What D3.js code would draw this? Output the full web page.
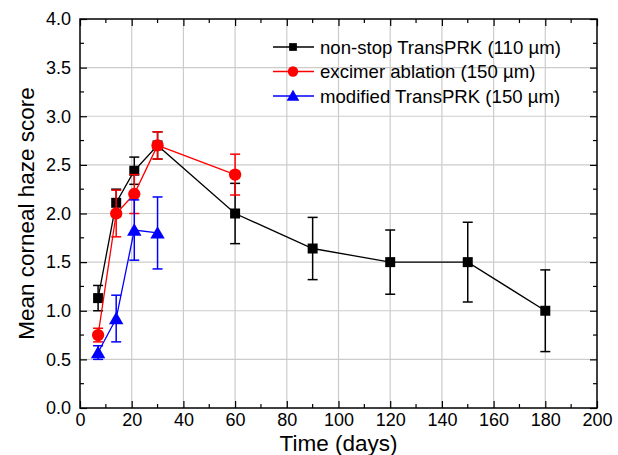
<!DOCTYPE html>
<html><head><meta charset="utf-8">
<script src="https://cdn.jsdelivr.net/npm/d3@7"></script>
<style>body{margin:0;background:#fff}svg{display:block}text{font-family:"Liberation Sans",Arial,sans-serif;fill:#000}</style>
</head><body><svg id="c" width="618" height="455"></svg>
<script>
const xTicks = [0,20,40,60,80,100,120,140,160,180,200];
const yTicks = [0,0.5,1,1.5,2,2.5,3,3.5,4];
const seriesNames = ["non-stop TransPRK (110 µm)","excimer ablation (150 µm)","modified TransPRK (150 µm)"];
const seriesColors = ["#000000","#ff0000","#0000ff"];
const seriesShapes = ["square","circle","triangle"];
const blackX = [7,14,21,30,60,90,120,150,180];
const blackY = [1.13,2.11,2.44,2.70,2.00,1.64,1.50,1.50,1.00];
const blackE = [0.13,0.14,0.14,0.14,0.31,0.32,0.33,0.41,0.42];
const redX = [7,14,21,30,60];
const redY = [0.75,2.00,2.20,2.70,2.40];
const redE = [0.07,0.24,0.20,0.14,0.21];
const blueX = [7,14,21,30];
const blueY = [0.57,0.92,1.83,1.80];
const blueE = [0.07,0.24,0.31,0.37];

const svg = d3.select("#c");
const L=80,R=597,T=19,B=408;
const x = d3.scaleLinear().domain([0,200]).range([L,R]);
const y = d3.scaleLinear().domain([0,4]).range([B,T]);

// grid
svg.append("g").selectAll("line").data(xTicks.slice(1,-1)).join("line")
 .attr("x1",d=>x(d)).attr("x2",d=>x(d)).attr("y1",T).attr("y2",B).attr("stroke","#cccccc").attr("stroke-width",1.2);
svg.append("g").selectAll("line").data(yTicks.slice(1,-1)).join("line")
 .attr("y1",d=>y(d)).attr("y2",d=>y(d)).attr("x1",L).attr("x2",R).attr("stroke","#cccccc").attr("stroke-width",1.2);

// axes (inward ticks)
const xMinor = d3.range(0,201,10), yMinor = d3.range(0,4.01,0.25);
function axisStyle(g){g.select(".domain").remove();g.selectAll("line").attr("stroke","#000").attr("stroke-width",1.2);}
const gxB = svg.append("g").attr("transform",`translate(0,${B})`)
 .call(d3.axisBottom(x).tickValues(xTicks).tickSize(-7).tickPadding(5).tickFormat(d3.format("d")));
const gxT = svg.append("g").attr("transform",`translate(0,${T})`)
 .call(d3.axisTop(x).tickValues(xTicks).tickSize(-7).tickFormat(""));
const gyL = svg.append("g").attr("transform",`translate(${L},0)`)
 .call(d3.axisLeft(y).tickValues(yTicks).tickSize(-7).tickPadding(9).tickFormat(d3.format(".1f")));
const gyR = svg.append("g").attr("transform",`translate(${R},0)`)
 .call(d3.axisRight(y).tickValues(yTicks).tickSize(-7).tickFormat(""));
[gxB,gxT,gyL,gyR].forEach(axisStyle);
svg.selectAll("g.tick text").attr("font-size",18).attr("font-family","Liberation Sans, Arial, sans-serif");
// minor ticks
svg.append("g").selectAll("line").data(xMinor.filter(d=>d%20)).join("line")
 .attr("x1",d=>x(d)).attr("x2",d=>x(d)).attr("y1",B).attr("y2",B-4).attr("stroke","#000").attr("stroke-width",1.2);
svg.append("g").selectAll("line").data(xMinor.filter(d=>d%20)).join("line")
 .attr("x1",d=>x(d)).attr("x2",d=>x(d)).attr("y1",T).attr("y2",T+4).attr("stroke","#000").attr("stroke-width",1.2);
svg.append("g").selectAll("line").data(yMinor.filter(d=>Math.round(d*4)%2)).join("line")
 .attr("y1",d=>y(d)).attr("y2",d=>y(d)).attr("x1",L).attr("x2",L+4).attr("stroke","#000").attr("stroke-width",1.2);
svg.append("g").selectAll("line").data(yMinor.filter(d=>Math.round(d*4)%2)).join("line")
 .attr("y1",d=>y(d)).attr("y2",d=>y(d)).attr("x1",R).attr("x2",R-4).attr("stroke","#000").attr("stroke-width",1.2);
// frame
svg.append("rect").attr("x",L).attr("y",T).attr("width",R-L).attr("height",B-T).attr("fill","none").attr("stroke","#000").attr("stroke-width",1.5);

// titles
svg.append("text").attr("x",(L+R)/2).attr("y",451).attr("text-anchor","middle").attr("font-size",22.5).text("Time (days)");
svg.append("text").attr("transform",`translate(34,${(T+B)/2}) rotate(-90)`).attr("text-anchor","middle").attr("font-size",22.5).text("Mean corneal haze score");

const sym = {square:d3.symbol(d3.symbolSquare,100), circle:d3.symbol(d3.symbolCircle,120), triangle:d3.symbol(d3.symbolTriangle,90)};
const symL = {square:d3.symbol(d3.symbolSquare,60), circle:d3.symbol(d3.symbolCircle,85), triangle:d3.symbol(d3.symbolTriangle,70)};

const series = [
 {xs:blackX,ys:blackY,es:blackE},
 {xs:redX,ys:redY,es:redE},
 {xs:blueX,ys:blueY,es:blueE}
];
series.forEach((s,i)=>{
 const col = seriesColors[i];
 const pts = s.xs.map((d,j)=>({x:d,y:s.ys[j],e:s.es[j]}));
 const g = svg.append("g");
 g.append("path").datum(pts).attr("fill","none").attr("stroke",col).attr("stroke-width",1.3)
  .attr("d",d3.line().x(d=>x(d.x)).y(d=>y(d.y)));
 const eb = g.selectAll("g.eb").data(pts).join("g");
 eb.append("line").attr("x1",d=>x(d.x)).attr("x2",d=>x(d.x)).attr("y1",d=>y(d.y-d.e)).attr("y2",d=>y(d.y+d.e)).attr("stroke",col).attr("stroke-width",1.5);
 eb.append("line").attr("x1",d=>x(d.x)-5).attr("x2",d=>x(d.x)+5).attr("y1",d=>y(d.y-d.e)).attr("y2",d=>y(d.y-d.e)).attr("stroke",col).attr("stroke-width",1.5);
 eb.append("line").attr("x1",d=>x(d.x)-5).attr("x2",d=>x(d.x)+5).attr("y1",d=>y(d.y+d.e)).attr("y2",d=>y(d.y+d.e)).attr("stroke",col).attr("stroke-width",1.5);
 g.selectAll("path.m").data(pts).join("path").attr("class","m")
  .attr("transform",d=>`translate(${x(d.x)},${y(d.y)+(seriesShapes[i]==="triangle"?1.5:0)})`)
  .attr("d",sym[seriesShapes[i]]).attr("fill",col);
});

// legend
const lg = svg.append("g");
seriesNames.forEach((n,i)=>{
 const yy = 47 + i*24.5;
 lg.append("line").attr("x1",273).attr("x2",314).attr("y1",yy).attr("y2",yy).attr("stroke",seriesColors[i]).attr("stroke-width",1.3);
 lg.append("path").attr("transform",`translate(293,${yy+(seriesShapes[i]==="triangle"?1.2:0)})`).attr("d",symL[seriesShapes[i]]).attr("fill",seriesColors[i]);
 lg.append("text").attr("x",320).attr("y",yy+6.5).attr("font-size",18.6).text(n);
});
</script></body></html>
